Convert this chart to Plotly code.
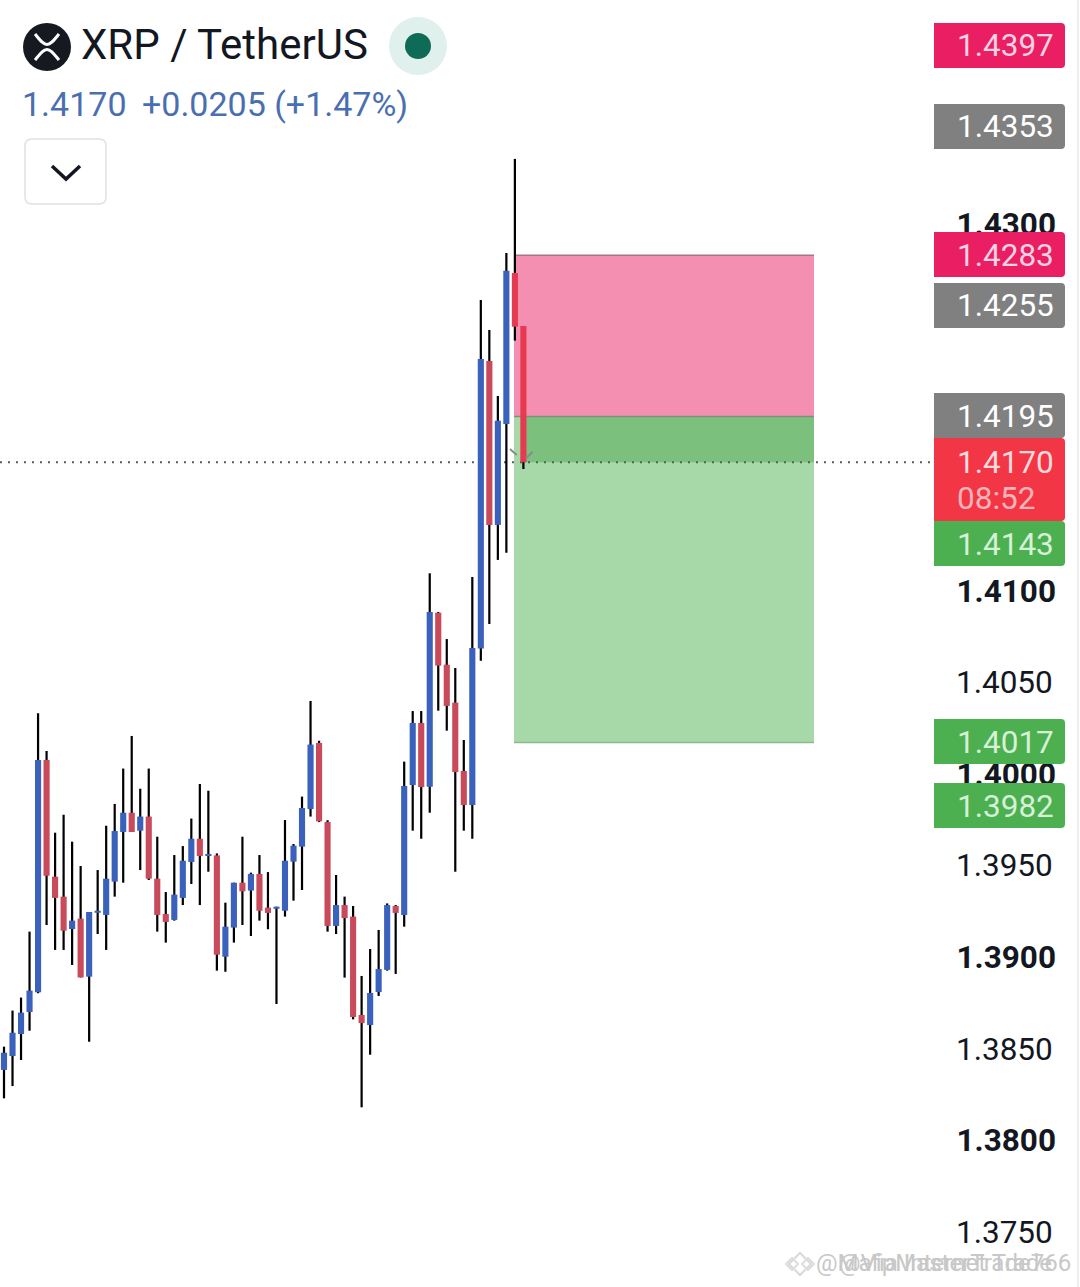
import plotly.graph_objects as go

W, H = 1080, 1287

# candles
opens = [1.38383, 1.38459, 1.38579, 1.38699, 1.38807, 1.40075, 1.39438, 1.39329, 1.39152, 1.39209,
         1.38892, 1.39241, 1.39229, 1.39411, 1.39682, 1.39787, 1.39689, 1.39766, 1.39427, 1.39234,
         1.39202, 1.39322, 1.39518, 1.39645, 1.39553, 1.39554, 1.39001, 1.39160, 1.39405, 1.39362,
         1.39453, 1.39269, 1.39263, 1.39252, 1.39520, 1.39602, 1.39807, 1.40168, 1.39736, 1.39169,
         1.39283, 1.39220, 1.38683, 1.38628, 1.38808, 1.38929, 1.39278, 1.39229, 1.39938, 1.40277,
         1.39929, 1.40879, 1.40595, 1.40388, 1.40015, 1.39829, 1.40683, 1.42253, 1.41358, 1.41909,
         1.42733, 1.42444]
highs = [1.38510, 1.38707, 1.38778, 1.39138, 1.40330, 1.40124, 1.39678, 1.39776, 1.39629, 1.39496,
         1.39245, 1.39474, 1.39716, 1.39835, 1.40028, 1.40206, 1.39918, 1.40028, 1.39656, 1.39354,
         1.39556, 1.39605, 1.39755, 1.39944, 1.39907, 1.39565, 1.39296, 1.39405, 1.39656, 1.39460,
         1.39556, 1.39463, 1.39274, 1.39747, 1.39616, 1.39875, 1.40397, 1.40180, 1.39746, 1.39447,
         1.39329, 1.39278, 1.38896, 1.39043, 1.39147, 1.39292, 1.39283, 1.40066, 1.40342, 1.40342,
         1.41094, 1.40883, 1.40735, 1.40577, 1.40184, 1.41074, 1.42586, 1.42422, 1.42062, 1.42842,
         1.43356, 1.42444]
lows = [1.38228, 1.38295, 1.38437, 1.38597, 1.38801, 1.39174, 1.39038, 1.39038, 1.38956, 1.38888,
        1.38537, 1.39125, 1.39038, 1.39329, 1.39405, 1.39682, 1.39474, 1.39420, 1.39138, 1.39078,
        1.39198, 1.39283, 1.39398, 1.39283, 1.39465, 1.38925, 1.38919, 1.39078, 1.39174, 1.39114,
        1.39198, 1.39151, 1.38743, 1.39220, 1.39307, 1.39365, 1.39766, 1.39736, 1.39138, 1.39125,
        1.38887, 1.38659, 1.38179, 1.38466, 1.38787, 1.38925, 1.38907, 1.39165, 1.39689, 1.39645,
        1.39787, 1.40344, 1.40235, 1.39465, 1.39689, 1.39645, 1.40617, 1.40817, 1.41167, 1.41206,
        1.42364, 1.41663]
closes = [1.38477, 1.38586, 1.38696, 1.38816, 1.40075, 1.39443, 1.39322, 1.39143, 1.39198, 1.38888,
          1.39245, 1.39252, 1.39427, 1.39687, 1.39787, 1.39682, 1.39766, 1.39427, 1.39229, 1.39191,
          1.39340, 1.39525, 1.39645, 1.39551, 1.39562, 1.39012, 1.39165, 1.39405, 1.39358, 1.39453,
          1.39252, 1.39240, 1.39274, 1.39525, 1.39607, 1.39813, 1.40159, 1.39740, 1.39169, 1.39283,
          1.39212, 1.38672, 1.38639, 1.38803, 1.38934, 1.39283, 1.39240, 1.39933, 1.40277, 1.39927,
          1.40883, 1.40590, 1.40370, 1.40009, 1.39829, 1.40686, 1.42264, 1.41358, 1.41927, 1.42746,
          1.42440, 1.41700]

# regular labels carry a hair space, they sit a little left of the bold ones
tick_vals = [1.375, 1.38, 1.385, 1.39, 1.395, 1.40, 1.405, 1.41, 1.415, 1.42, 1.425, 1.43, 1.435, 1.44]
tick_text = ["1.3750\u200a", "<b>1.3800</b>", "1.3850\u200a", "<b>1.3900</b>", "1.3950\u200a", "<b>1.4000</b>",
             "1.4050\u200a", "<b>1.4100</b>", "1.4150\u200a", "<b>1.4200</b>", "1.4250\u200a", "<b>1.4300</b>",
             "1.4350\u200a", "<b>1.4400</b>"]

stop = 1.4283
entry = 1.4195
target = 1.4017
last_price = 1.4170

tag_text = ["1.4397", "1.4353", "1.4283", "1.4255", "1.4195", "1.4143", "1.4017", "1.3982"]
tag_color = ["#e91e63", "#808080", "#e91e63", "#808080", "#808080", "#4caf50", "#4caf50", "#4caf50"]
tag_font = ["#fbd3e2", "#ffffff", "#fbd3e2", "#ffffff", "#ffffff", "#d6f1d7", "#d6f1d7", "#d6f1d7"]
tag_top = [23, 104, 232, 283, 393, 521, 719, 783]

BLUE = "#3a62bd"
RED = "#c94a5b"
FRESH_RED = "#e53a50"
TEXT = "#131722"
FONT = "Roboto"

# pixel <-> axis calibration taken from the tick labels
X_LEFT, X_RIGHT = -0.47, 126.37
Y_TOP = 1.41 + 590.5 / 18320
Y_BOTTOM = 1.41 - (H - 590.5) / 18320


def px(x):
    return x / W


def py(y):
    return 1 - y / H


def idx(x):
    return X_LEFT + x / W * (X_RIGHT - X_LEFT)


def line(x0, y0, x1, y1, color, width):
    return dict(type="line", xref="paper", yref="paper", x0=px(x0), y0=py(y0), x1=px(x1), y1=py(y1),
                line=dict(color=color, width=width), layer="above")


def tag_path(top, bottom, left=934, right=1065, r=4):
    return (f"M {px(left)} {py(top)} L {px(right - r)} {py(top)} Q {px(right)} {py(top)} {px(right)} {py(top + r)} "
            f"L {px(right)} {py(bottom - r)} Q {px(right)} {py(bottom)} {px(right - r)} {py(bottom)} "
            f"L {px(left)} {py(bottom)} Z")


def button_path(left, top, right, bottom, r):
    return (f"M {px(left + r)} {py(top)} L {px(right - r)} {py(top)} Q {px(right)} {py(top)} {px(right)} {py(top + r)} "
            f"L {px(right)} {py(bottom - r)} Q {px(right)} {py(bottom)} {px(right - r)} {py(bottom)} "
            f"L {px(left + r)} {py(bottom)} Q {px(left)} {py(bottom)} {px(left)} {py(bottom - r)} "
            f"L {px(left)} {py(top + r)} Q {px(left)} {py(top)} {px(left + r)} {py(top)} Z")


def label(text, x, y, size, color, anchor="left"):
    return dict(text=text, xref="paper", yref="paper", x=px(x), y=py(y), xanchor=anchor, yanchor="middle",
                showarrow=False, font=dict(family=FONT, size=size, color=color), borderpad=0)


def diamond(cx, cy, r, color):
    return dict(type="path", xref="paper", yref="paper", layer="above",
                path=f"M {px(cx - r)} {py(cy)} L {px(cx)} {py(cy - r)} L {px(cx + r)} {py(cy)} L {px(cx)} {py(cy + r)} Z",
                line=dict(color=color, width=2), fillcolor="rgba(0,0,0,0)")


x = list(range(len(opens)))
wick_len = [h - l for h, l in zip(highs, lows)]
body_base = [min(o, c) for o, c in zip(opens, closes)]
body_len = [abs(o - c) for o, c in zip(opens, closes)]
body_color = [BLUE if c >= o else RED for o, c in zip(opens, closes)]
body_color[-2:] = [FRESH_RED, FRESH_RED]

fig = go.Figure()
fig.add_trace(go.Bar(x=x, y=wick_len, base=lows, width=0.26, marker=dict(color="#000000", line_width=0),
                     showlegend=False))
fig.add_trace(go.Bar(x=x, y=body_len, base=body_base, width=0.72, marker=dict(color=body_color, line_width=0),
                     showlegend=False))

box_x0, box_x1 = idx(514), idx(814)
shapes = [
    dict(type="rect", xref="x", yref="y", x0=box_x0, x1=box_x1, y0=entry, y1=stop, fillcolor="#f48fb1",
         line_width=0, layer="below"),
    dict(type="rect", xref="x", yref="y", x0=box_x0, x1=box_x1, y0=target, y1=entry, fillcolor="#a6d8a8",
         line_width=0, layer="below"),
    dict(type="rect", xref="x", yref="y", x0=idx(522), x1=box_x1, y0=last_price, y1=entry, fillcolor="#7cc07e",
         line_width=0, layer="below"),
    dict(type="line", xref="x", yref="y", x0=box_x0, x1=box_x1, y0=stop, y1=stop,
         line=dict(color="#a0788a", width=1.5), layer="below"),
    dict(type="line", xref="x", yref="y", x0=box_x0, x1=box_x1, y0=entry, y1=entry,
         line=dict(color="#7f8f7f", width=1.5), layer="below"),
    dict(type="line", xref="x", yref="y", x0=box_x0, x1=box_x1, y0=target, y1=target,
         line=dict(color="#8cb98e", width=1.5), layer="below"),
    dict(type="line", xref="x", yref="y", x0=X_LEFT, x1=idx(932), y0=last_price, y1=last_price,
         line=dict(color="#555f56", width=2, dash="2px,6px"), layer="below"),
    line(510, 449, 516.7, 455, "#8a8a8a", 2),
    line(532.7, 451.7, 526, 458.3, "#8a8a8a", 2),
    line(1078, 0, 1078, H, "#eeeeee", 2),
    # header: logo, status dot, dropdown button
    dict(type="circle", xref="paper", yref="paper", x0=px(23), x1=px(71), y0=py(71), y1=py(23),
         fillcolor="#16191f", line_width=0, layer="above"),
    dict(type="path", xref="paper", yref="paper", layer="above", line=dict(color="#ffffff", width=3),
         path=f"M {px(35)} {py(34)} C {px(40)} {py(40)} {px(43)} {py(44.5)} {px(47)} {py(44.5)} "
              f"C {px(51)} {py(44.5)} {px(54)} {py(40)} {px(59)} {py(34)}"),
    dict(type="path", xref="paper", yref="paper", layer="above", line=dict(color="#ffffff", width=3),
         path=f"M {px(35)} {py(60)} C {px(40)} {py(54)} {px(43)} {py(49.5)} {px(47)} {py(49.5)} "
              f"C {px(51)} {py(49.5)} {px(54)} {py(54)} {px(59)} {py(60)}"),
    dict(type="circle", xref="paper", yref="paper", x0=px(389), x1=px(447), y0=py(75), y1=py(17),
         fillcolor="#dff0ed", line_width=0, layer="above"),
    dict(type="circle", xref="paper", yref="paper", x0=px(405), x1=px(431), y0=py(59), y1=py(33),
         fillcolor="#0e6b58", line_width=0, layer="above"),
    dict(type="path", xref="paper", yref="paper", layer="above", path=button_path(25, 139, 106, 204, 7),
         fillcolor="#ffffff", line=dict(color="#dfe1e6", width=1.5)),
    dict(type="path", xref="paper", yref="paper", layer="above", line=dict(color=TEXT, width=3.5),
         path=f"M {px(52)} {py(166)} L {px(66)} {py(179)} L {px(80)} {py(166)}"),
    # watermark logo
    diamond(800, 1264, 11, "#d9d9d9"),
    diamond(792, 1264, 6, "#dddddd"),
    diamond(808, 1264, 6, "#dddddd"),
]

annotations = [
    label("XRP / TetherUS", 80, 44.5, 42, TEXT),
    label("1.4170", 21, 104, 34, "#4a6fb0"),
    label("+0.0205 (+1.47%)", 141, 104, 34, "#4a6fb0"),
    label("@Mafia Internet Trade", 815, 1263, 24, "#c8c8c8"),
    label("@VipMasterTrade766", 838, 1263, 24, "#c8c8c8"),
]

for text, color, font_color, top in zip(tag_text, tag_color, tag_font, tag_top):
    shapes.append(dict(type="path", xref="paper", yref="paper", layer="above", path=tag_path(top, top + 45),
                       fillcolor=color, line_width=0))
    annotations.append(label(text, 1055, top + 23, 31.5, font_color, anchor="right"))

# current price tag is taller, it holds the countdown too
shapes.append(dict(type="path", xref="paper", yref="paper", layer="above", path=tag_path(438, 521),
                   fillcolor="#f23645", line_width=0))
annotations.append(label("1.4170", 1055, 462, 31.5, "#ffdadd", anchor="right"))
annotations.append(label("08:52", 956, 499, 31.5, "#ffb4ba"))

fig.update_layout(
    width=W, height=H, margin=dict(l=0, r=0, t=0, b=0), autosize=False,
    paper_bgcolor="#ffffff", plot_bgcolor="#ffffff", barmode="overlay", showlegend=False,
    xaxis=dict(range=[X_LEFT, X_RIGHT], visible=False, fixedrange=True),
    yaxis=dict(range=[Y_BOTTOM, Y_TOP], side="right", showgrid=False, zeroline=False, showline=False,
               tickvals=tick_vals, ticktext=tick_text, ticks="", ticklabelposition="inside",
               ticklabelstandoff=21, tickfont=dict(family=FONT, size=31.5, color=TEXT), fixedrange=True),
    shapes=shapes, annotations=annotations,
)

fig.write_html("out.html", config=dict(displayModeBar=False),
               post_script="document.body.style.margin='0';")
